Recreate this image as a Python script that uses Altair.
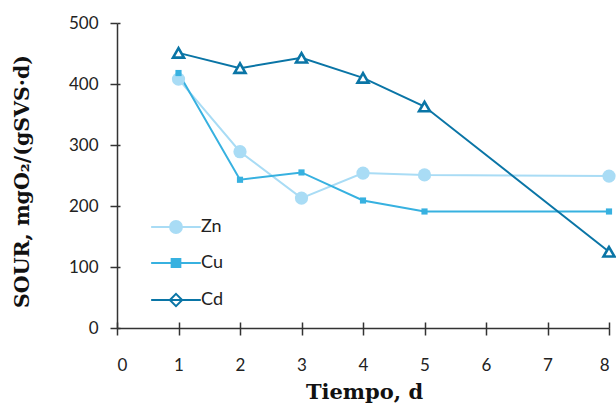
import altair as alt
import pandas as pd

# ---- data ----
series = ["Zn", "Cu", "Cd"]
days = [1, 2, 3, 4, 5, 8]
zn = [408, 289, 213, 254, 251, 249]
cu = [418, 243, 255, 209, 191, 191]
cd = [451, 426, 443, 410, 363, 125]
x_ticks = [0, 1, 2, 3, 4, 5, 6, 7, 8]
y_ticks = [0, 100, 200, 300, 400, 500]

# ---- styles ----
LIGHT, MID, DARK = "#a9dcf5", "#37b1e0", "#0a75a6"
AX = "#333333"
LABEL_FONT = "Lato"
TITLE_FONT = "DejaVu Serif"

rows = []
for name, vals in zip(series, [zn, cu, cd]):
    for d, v in zip(days, vals):
        rows.append({"t": d, "sour": v, "serie": name})
df = pd.DataFrame(rows)


def circle_path(r):
    k = round(0.5523 * r, 3)
    return (f"M{r},0C{r},{k},{k},{r},0,{r}C{-k},{r},{-r},{k},{-r},0"
            f"C{-r},{-k},{-k},{-r},0,{-r}C{k},{-r},{r},{-k},{r},0Z")


seg = "M-3.55,0H3.55"
legend_shapes = [
    seg + circle_path(0.85),
    seg + "M-0.62,-0.58H0.62V0.58H-0.62Z",
    seg + "M0,-0.88L0.88,0L0,0.88L-0.88,0Z",
]

stroke_scale = alt.Scale(domain=series, range=[LIGHT, MID, DARK])
fill_scale = alt.Scale(domain=series, range=[LIGHT, MID, "white"])
shape_scale = alt.Scale(domain=series, range=legend_shapes)

xscale = alt.Scale(domain=[0, 8], nice=False, zero=False)
yscale = alt.Scale(domain=[0, 500], nice=False)

main_x = alt.Axis(values=x_ticks, format="d", tickSize=7, tickWidth=1.5, tickColor=AX,
                  domainColor=AX, domainWidth=1.5, labelFont=LABEL_FONT, labelFontSize=17,
                  labelColor="#222222", labelPadding=22, grid=False,
                  title="Tiempo, d", titleFont=TITLE_FONT, titleFontSize=21,
                  titleFontWeight="bold", titleColor="#111111", titleX=247, titleY=64,
                  titleBaseline="middle", titleAlign="center", orient="bottom")
main_y = alt.Axis(values=y_ticks, tickSize=7, tickWidth=1.5, tickColor=AX,
                  domainColor=AX, domainWidth=1.5, labelFont=LABEL_FONT, labelFontSize=17,
                  labelColor="#222222", labelPadding=12, grid=False,
                  title="SOUR, mgO₂/(gSVS·d)", titleFont=TITLE_FONT, titleFontSize=20.5,
                  titleFontWeight="bold", titleColor="#111111", titleX=-95, titleY=158,
                  titleAngle=270, titleBaseline="middle", titleAlign="center", orient="left")

inner_x = alt.Axis(values=x_ticks, tickSize=6, tickWidth=1.5, tickColor=AX, domain=False,
                   labels=False, title=None, grid=False, offset=-6, orient="bottom")
inner_y = alt.Axis(values=y_ticks, tickSize=3, tickWidth=1.5, tickColor=AX, domain=False,
                   labels=False, title=None, grid=False, offset=-3, orient="left")

leg = alt.Legend(orient="none", legendX=50, legendY=195, title=None, padding=0,
                 symbolSize=196, symbolStrokeWidth=2, labelFont=LABEL_FONT,
                 labelFontSize=18, labelColor="#222222", labelOffset=16, rowPadding=17,
                 symbolOpacity=1)

base = alt.Chart(df)

lines = base.mark_line(strokeWidth=2).encode(
    x=alt.X("t:Q", scale=xscale, axis=main_x),
    y=alt.Y("sour:Q", scale=yscale, axis=main_y),
    stroke=alt.Stroke("serie:N", scale=stroke_scale, legend=leg),
    order="t:Q",
)

ticks_layer = base.mark_point(opacity=0, size=1).encode(
    x=alt.X("t:Q", scale=xscale, axis=inner_x),
    y=alt.Y("sour:Q", scale=yscale, axis=inner_y),
)

pt_zn = base.transform_filter(alt.datum.serie == "Zn").mark_point(
    shape="circle", filled=True, size=175, color=LIGHT, opacity=1
).encode(x=alt.X("t:Q", scale=xscale, axis=None), y=alt.Y("sour:Q", scale=yscale, axis=None))

pt_cu = base.transform_filter(alt.datum.serie == "Cu").mark_point(
    shape="square", filled=True, size=38, color=MID, opacity=1
).encode(x=alt.X("t:Q", scale=xscale, axis=None), y=alt.Y("sour:Q", scale=yscale, axis=None))

pt_cd = base.transform_filter(alt.datum.serie == "Cd").mark_point(
    shape="triangle-up", filled=True, size=120, fill="white", stroke=DARK,
    strokeWidth=2.6, opacity=1
).encode(x=alt.X("t:Q", scale=xscale, axis=None), y=alt.Y("sour:Q", scale=yscale, axis=None))

# legend-only layer: its marks are drawn at zero size, only its legend shows
legend_layer = base.mark_point(filled=True, opacity=1, size=0).encode(
    x=alt.X("t:Q", scale=xscale, axis=None),
    y=alt.Y("sour:Q", scale=yscale, axis=None),
    shape=alt.Shape("serie:N", scale=shape_scale, legend=leg),
    fill=alt.Fill("serie:N", scale=fill_scale, legend=leg),
    stroke=alt.Stroke("serie:N", scale=stroke_scale, legend=leg),
)

chart = alt.layer(lines, ticks_layer, pt_zn, pt_cu, pt_cd, legend_layer).resolve_axis(
    x="independent", y="independent"
).properties(
    width=492, height=305, autosize="none",
    padding={"left": 117, "top": 23, "right": 7, "bottom": 77},
    background="white",
).configure_view(stroke=None)

chart.save("out.html", embed_options={"renderer": "svg", "actions": False})
